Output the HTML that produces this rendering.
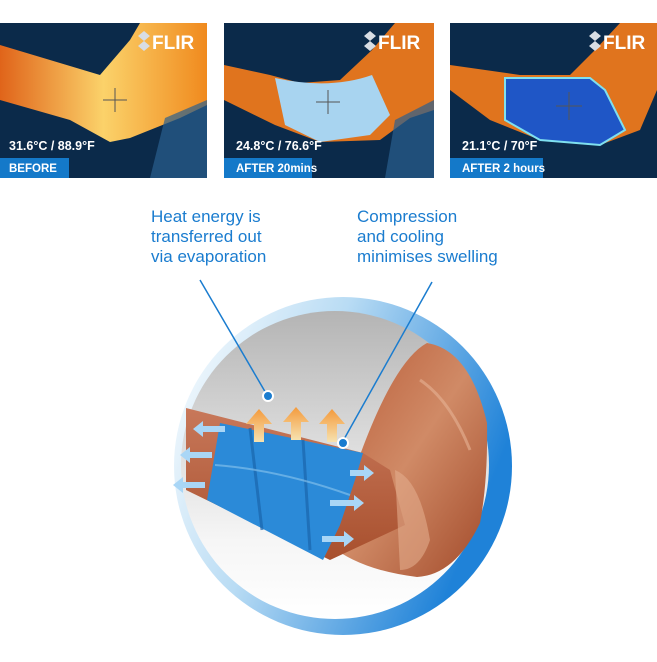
<!DOCTYPE html>
<html><head><style>
body{margin:0;background:#fff;width:657px;height:657px;overflow:hidden;font-family:"Liberation Sans",sans-serif}
</style></head><body>
<svg width="657" height="657" viewBox="0 0 657 657" xmlns="http://www.w3.org/2000/svg" font-family="Liberation Sans, sans-serif">
<defs>
<linearGradient id="hot" x1="0" y1="0" x2="1" y2="0"><stop offset="0" stop-color="#e0641a"/><stop offset=".5" stop-color="#fbd26a"/><stop offset="1" stop-color="#f08a1e"/></linearGradient>
<linearGradient id="circ" x1="0" y1="0" x2="0" y2="1"><stop offset="0" stop-color="#b4b4b4"/><stop offset=".45" stop-color="#dedede"/><stop offset=".75" stop-color="#f6f6f6"/><stop offset="1" stop-color="#ffffff"/></linearGradient>
<linearGradient id="ring" x1="0" y1="0" x2="1" y2="0.4"><stop offset="0" stop-color="#ffffff"/><stop offset=".45" stop-color="#b9dcf4"/><stop offset="1" stop-color="#1f82d8"/></linearGradient>
<linearGradient id="mus" x1="0" y1="0" x2="1" y2="1"><stop offset="0" stop-color="#b85a36"/><stop offset=".5" stop-color="#d08a66"/><stop offset="1" stop-color="#a24a2a"/></linearGradient>
<linearGradient id="fore" x1="0" y1="0" x2="0" y2="1"><stop offset="0" stop-color="#c8785a"/><stop offset="1" stop-color="#a8502e"/></linearGradient>
<linearGradient id="up" x1="0" y1="0" x2="0" y2="1"><stop offset="0" stop-color="#f49a3c"/><stop offset="1" stop-color="#f6e2b0"/></linearGradient>
</defs>
<rect x="0" y="23" width="207" height="155" fill="#0b2a4a"/>
<polygon points="0,45 100,75 130,40 140,23 207,23 207,105 180,118 130,138 110,142 70,120 0,100" fill="url(#hot)"/>
<polygon points="165,118 207,100 207,178 150,178" fill="#2a5f8e" opacity=".7"/>
<rect x="224" y="23" width="210" height="155" fill="#0b2a4a"/>
<polygon points="224,65 270,75 300,83 340,80 372,50 395,23 434,23 434,110 410,118 380,140 320,142 275,125 224,100" fill="#e0741e"/>
<path d="M275,78 Q330,90 372,75 L390,115 L370,135 L320,142 L285,125 Z" fill="#a8d4f0"/>
<polygon points="395,120 434,100 434,178 385,178" fill="#2a5f8e" opacity=".7"/>
<rect x="450" y="23" width="207" height="155" fill="#0b2a4a"/>
<polygon points="450,65 520,75 570,75 595,50 620,23 657,23 657,90 640,130 600,145 540,140 490,120 450,90" fill="#e0741e"/>
<path d="M505,78 L590,78 L605,90 L625,130 L600,145 L540,140 L505,120 Z" fill="#1f56c6" stroke="#7fe0f0" stroke-width="2"/>
<g fill="#fff" font-weight="bold" font-size="19">
<text x="152" y="49">FLIR</text><text x="378" y="49">FLIR</text><text x="603" y="49">FLIR</text></g>
<g fill="#d8dde4"><path d="M138,36 l6,-5 6,5 -6,5z M138,46 l6,-5 6,5 -6,5z"/><path d="M364,36 l6,-5 6,5 -6,5z M364,46 l6,-5 6,5 -6,5z"/><path d="M589,36 l6,-5 6,5 -6,5z M589,46 l6,-5 6,5 -6,5z"/></g>
<g stroke="#555" stroke-width="1"><path d="M103,100h24M115,88v24M316,102h24M328,90v24M556,106h26M569,92v28"/></g>
<g fill="#fff" font-weight="bold" font-size="12.5">
<text x="9" y="150">31.6°C / 88.9°F</text><text x="236" y="150">24.8°C / 76.6°F</text><text x="462" y="150">21.1°C / 70°F</text></g>
<rect x="0" y="158" width="69" height="20" fill="#1479c9"/><rect x="224" y="158" width="88" height="20" fill="#1479c9"/><rect x="450" y="158" width="93" height="20" fill="#1479c9"/>
<g fill="#fff" font-weight="bold" font-size="11.5">
<text x="9" y="172">BEFORE</text><text x="236" y="172">AFTER 20mins</text><text x="462" y="172">AFTER 2 hours</text></g>
<g fill="#1a7ccf" font-size="17">
<text x="151" y="222">Heat energy is</text><text x="151" y="242">transferred out</text><text x="151" y="262">via evaporation</text>
<text x="357" y="222">Compression</text><text x="357" y="242">and cooling</text><text x="357" y="262">minimises swelling</text></g>
<circle cx="343" cy="466" r="169" fill="url(#ring)"/>
<circle cx="335" cy="465" r="154" fill="url(#circ)"/>
<path d="M360,455 Q395,360 427,343 Q470,350 487,423 Q488,480 480,523 Q455,575 417,577 Q360,570 330,545 Z" fill="url(#mus)"/>
<path d="M186,408 L363,453 L390,470 L405,525 L330,560 L186,490 Z" fill="url(#fore)"/>
<path d="M395,470 Q420,480 430,540 Q420,570 400,570 Z" fill="#e2ab8c" opacity=".6"/>
<path d="M420,380 Q450,400 470,450" stroke="#e6b394" stroke-width="3" fill="none" opacity=".6"/>
<path d="M220,423 L363,453 L355,480 L340,525 L323,560 L207,500 Z" fill="#2b8ad8"/>
<g stroke="#1a66ad" stroke-width="3" fill="none" opacity=".7"><path d="M250,428 L262,530"/><path d="M303,440 L310,550"/></g>
<path d="M215,465 Q280,470 350,495" stroke="#8cc6ee" stroke-width="2" fill="none" opacity=".6"/>
<g stroke="#1a7ccf" stroke-width="1.5"><line x1="200" y1="280" x2="267" y2="395"/><line x1="432" y1="282" x2="343" y2="441"/></g>
<circle cx="268" cy="396" r="5" fill="#1a7ccf" stroke="#fff" stroke-width="2"/>
<circle cx="343" cy="443" r="5" fill="#1a7ccf" stroke="#fff" stroke-width="2"/>
<g fill="url(#up)"><path d="M254,442 v-18 h-8 l13,-15 13,15 h-8 v18z"/><path d="M291,440 v-18 h-8 l13,-15 13,15 h-8 v18z"/><path d="M327,442 v-18 h-8 l13,-15 13,15 h-8 v18z"/></g>
<g fill="#a9d6f6"><path d="M225,426 h-22 v-5 l-10,8 10,8 v-5 h22z M212,452 h-22 v-5 l-10,8 10,8 v-5 h22z M205,482 h-22 v-5 l-10,8 10,8 v-5 h22z"/>
<path d="M350,470 h14 v-5 l10,8 -10,8 v-5 h-14z M330,500 h24 v-5 l10,8 -10,8 v-5 h-24z M322,536 h22 v-5 l10,8 -10,8 v-5 h-22z"/></g>
</svg>
</body></html>
